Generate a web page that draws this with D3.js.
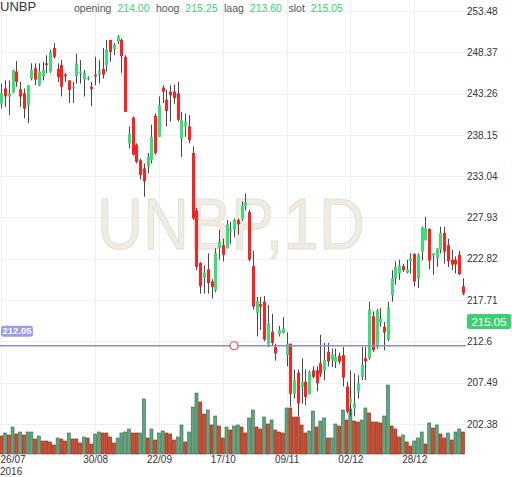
<!DOCTYPE html>
<html>
<head>
<meta charset="utf-8">
<script src="https://cdn.jsdelivr.net/npm/d3@7"></script>
<style>
  body { margin: 0; background: #fff; }
  svg { display: block; font-family: "Liberation Sans", Arial, sans-serif; }
</style>
</head>
<body>
<div id="chart"></div>
<script>
// daily candles, 26/07/2016 onwards (index = trading day)
const opens = [
  242.0, 243.9, 242.9, 243.4, 246.0, 243.8, 243.3, 241.8, 245.1, 246.4,
  244.3, 245.4, 247.0, 246.0, 248.9, 246.3, 246.8, 245.6, 244.9, 243.9,
  245.4, 245.8, 245.0, 245.1, 244.1, 245.6, 245.6, 246.3, 246.8, 249.9,
  248.7, 249.7, 249.9, 247.8, 237.1, 240.3, 236.9, 235.0, 234.0, 234.3,
  235.0, 240.5, 237.9, 244.0, 242.5, 243.5, 243.5, 243.3, 237.7, 239.2,
  239.2, 235.9, 228.8, 222.3, 220.5, 221.5, 220.0, 218.9, 224.1, 224.5,
  224.1, 226.2, 226.4, 227.6, 227.8, 229.3, 228.6, 221.9, 216.1, 217.2,
  217.5, 212.2, 213.8, 211.9, 213.5, 213.6, 210.9, 212.3, 206.1, 208.7,
  206.9, 207.6, 206.1, 209.0, 209.0, 209.9, 209.0, 211.3, 210.3, 210.0,
  210.8, 210.9, 207.0, 205.0, 204.3, 206.4, 208.2, 210.5, 210.5, 215.7,
  211.9, 214.9, 214.4, 212.8, 218.3, 220.4, 221.0, 221.9, 221.1, 222.5,
  223.4, 220.4, 223.7, 225.1, 226.5, 223.2, 222.9, 224.0, 226.0, 224.5,
  222.7, 222.7, 223.3, 219.4
];
const highs = [
  244.5, 244.9, 244.9, 246.2, 247.3, 244.7, 243.9, 244.3, 247.0, 247.0,
  247.0, 247.2, 248.0, 248.7, 249.5, 247.0, 247.4, 245.8, 244.9, 244.7,
  248.2, 247.4, 246.2, 245.4, 244.7, 247.8, 247.4, 248.9, 249.9, 249.9,
  249.5, 250.5, 250.1, 248.0, 239.2, 240.4, 237.1, 235.2, 234.6, 235.9,
  239.4, 240.8, 242.9, 244.3, 243.7, 244.3, 244.4, 244.7, 241.0, 240.8,
  240.6, 236.7, 229.1, 222.4, 222.0, 223.5, 220.3, 224.1, 226.4, 225.3,
  227.6, 227.4, 227.8, 227.8, 229.9, 230.9, 228.9, 223.8, 218.1, 218.1,
  218.2, 217.1, 216.0, 212.3, 214.5, 215.6, 213.7, 212.3, 209.1, 209.1,
  210.5, 209.1, 209.0, 209.5, 209.5, 213.4, 212.4, 212.4, 211.7, 211.7,
  211.2, 211.9, 207.6, 209.0, 208.6, 208.4, 211.9, 211.9, 217.5, 216.3,
  216.6, 216.7, 215.0, 217.5, 221.4, 222.5, 222.7, 222.2, 222.7, 223.5,
  223.5, 223.5, 226.8, 228.0, 226.6, 223.5, 224.1, 226.8, 226.8, 225.3,
  223.9, 223.1, 223.8, 220.4
];
const lows = [
  241.4, 241.6, 240.6, 243.3, 244.1, 241.6, 240.2, 239.6, 244.9, 244.3,
  244.2, 244.9, 245.8, 245.8, 247.6, 244.7, 242.9, 244.7, 242.1, 242.1,
  244.5, 244.5, 242.9, 244.9, 241.7, 244.3, 244.5, 245.1, 246.0, 247.2,
  248.0, 249.4, 245.8, 241.0, 236.5, 235.6, 234.6, 232.6, 230.5, 233.4,
  234.6, 235.7, 237.9, 242.1, 239.2, 239.8, 242.0, 239.8, 235.4, 237.9,
  237.1, 227.6, 221.4, 218.5, 218.5, 218.5, 217.9, 218.7, 222.7, 222.5,
  224.1, 224.7, 225.5, 225.8, 227.5, 228.8, 222.5, 216.5, 213.2, 214.0,
  212.6, 211.9, 212.1, 210.2, 213.2, 213.6, 209.5, 204.5, 205.5, 203.3,
  204.9, 204.7, 206.0, 208.0, 206.4, 208.2, 207.8, 209.5, 209.4, 209.3,
  209.8, 207.0, 203.7, 203.3, 203.3, 205.5, 207.8, 207.8, 210.3, 211.3,
  211.7, 214.4, 211.5, 212.6, 217.5, 219.6, 220.2, 221.2, 221.0, 221.0,
  219.4, 219.2, 222.6, 225.1, 221.5, 220.8, 221.8, 223.5, 222.2, 221.8,
  221.4, 221.0, 220.8, 218.3
];
const closes = [
  243.3, 242.9, 243.3, 246.1, 244.7, 242.9, 241.4, 244.3, 246.2, 245.0,
  246.0, 246.2, 246.8, 248.4, 247.8, 245.3, 244.1, 245.4, 243.7, 244.1,
  247.0, 246.0, 245.8, 245.2, 243.8, 245.4, 246.1, 245.6, 248.7, 248.4,
  249.3, 250.3, 247.9, 241.0, 238.3, 235.7, 234.8, 233.2, 232.4, 235.4,
  237.9, 235.9, 241.8, 243.5, 241.1, 243.1, 242.7, 240.0, 240.0, 239.7,
  237.5, 227.8, 221.8, 219.4, 221.1, 219.8, 219.3, 223.5, 224.9, 223.3,
  227.1, 226.4, 227.6, 227.1, 229.4, 229.8, 222.7, 216.9, 217.6, 216.9,
  212.8, 214.8, 212.4, 211.1, 214.0, 214.2, 212.3, 206.1, 207.8, 204.9,
  207.6, 205.7, 208.8, 208.2, 207.4, 208.6, 210.3, 210.1, 211.0, 210.7,
  210.1, 208.1, 203.9, 205.5, 204.9, 207.4, 209.7, 210.1, 216.5, 211.5,
  216.4, 215.4, 213.7, 216.8, 220.4, 221.8, 222.0, 221.4, 221.5, 222.9,
  220.0, 223.3, 226.7, 226.6, 222.6, 223.5, 224.1, 226.0, 223.7, 222.5,
  222.1, 222.1, 220.9, 218.5
];
// volume (estimated, thousands) and bar direction as drawn
const volumes = [
  18, 21, 19, 27, 20, 22, 19, 22, 22, 15, 18, 13, 13, 12, 9, 16, 15, 13, 21, 15,
  15, 11, 17, 16, 10, 20, 22, 21, 21, 17, 11, 16, 21, 22, 25, 21, 21, 21, 55, 16,
  25, 14, 21, 23, 21, 20, 14, 17, 29, 12, 22, 47, 61, 52, 40, 44, 29, 38, 28, 16,
  27, 24, 28, 29, 27, 21, 36, 44, 27, 25, 37, 30, 34, 24, 22, 21, 46, 46, 37, 37,
  29, 21, 23, 43, 27, 33, 36, 16, 16, 30, 28, 44, 34, 45, 33, 32, 34, 46, 41, 32,
  32, 31, 38, 69, 28, 25, 17, 19, 12, 8, 13, 16, 22, 10, 31, 26, 29, 20, 16, 21,
  14, 22, 25, 22
];
const volumeDir =
  "rgrgrgrggr" + "grrrrgrrgr" + "rrgrrggrrr" + "rggggrrggr" + "grggrrrggr" +
  "gggrrgrgrr" + "grggrrggrr" + "grgrrrgrrr" + "rrggrggrgg" + "rgrgrrggrr" +
  "rrggrrrgrr" + "gggrgrgrrg" + "rggr";

const priceTicks = [253.48, 248.37, 243.26, 238.15, 233.04, 227.93, 222.82, 217.71, 212.6, 207.49, 202.38];
const priceTickLabels = ["253.48", "248.37", "243.26", "238.15", "233.04", "227.93", "222.82", "217.71", "212.6", "207.49", "202.38"];
const dateTickIdx = [0, 25, 42, 59, 76, 93, 110];
const dateTickLabels = ["26/07", "30/08", "22/09", "17/10", "09/11", "02/12", "28/12"];

const symbol = "UNBP";
const quoteLabels = ["opening", "hoog", "laag", "slot"];
const quoteValues = ["214.00", "215.25", "213.60", "215.05"];
const lastPrice = 215.05;
const alertPrice = 212.05;
const alertIdx = 62;

const theme = {
  up: "#3ddc77",
  down: "#ff2020",
  wick: "#474747",
  volUp: "#64a47f",
  volUpEdge: "#346b4b",
  volDown: "#cf4d31",
  volDownEdge: "#7d2615",
  grid: "#f0f0f0",
  text: "#333",
  quote: "#3ad170",
  alert: "#8b8bd8",
  alertBox: "#9a9af2",
};

const width = 512;
const height = 477;
const plotRight = 466;
const volBottom = 454;
const n = opens.length;

const svg = d3
  .select("#chart")
  .append("svg")
  .attr("width", width)
  .attr("height", height);

const xScale = d3.scalePoint().domain(d3.range(n)).range([1.3, 463]);
const yScale = d3.scaleLinear().domain([212.6, 253.48]).range([341.3, 11]);
const vScale = d3.scaleLinear().domain([0, d3.max(volumes)]).range([volBottom, 385]);

// grid
svg
  .append("g")
  .selectAll("line")
  .data(priceTicks)
  .join("line")
  .attr("x1", 0)
  .attr("x2", plotRight)
  .attr("y1", (d) => Math.round(yScale(d)) + 0.5)
  .attr("y2", (d) => Math.round(yScale(d)) + 0.5)
  .attr("stroke", theme.grid);
svg
  .append("g")
  .selectAll("line")
  .data(dateTickIdx)
  .join("line")
  .attr("x1", (d) => Math.round(xScale(d)) + 0.5)
  .attr("x2", (d) => Math.round(xScale(d)) + 0.5)
  .attr("y1", 0)
  .attr("y2", volBottom)
  .attr("stroke", theme.grid);

// watermark
svg
  .append("text")
  .attr("x", 231)
  .attr("y", 249)
  .attr("text-anchor", "middle")
  .attr("font-size", 72)
  .attr("textLength", 268)
  .attr("lengthAdjust", "spacingAndGlyphs")
  .attr("fill", "#f0ece3")
  .attr("stroke", "#e4dfd1")
  .attr("stroke-width", 1)
  .text(`${symbol},1D`);

// volume
svg
  .append("g")
  .selectAll("rect")
  .data(volumes)
  .join("rect")
  .attr("x", (d, i) => xScale(i) - 1.5)
  .attr("y", (d) => vScale(d))
  .attr("width", 3)
  .attr("height", (d) => volBottom - vScale(d))
  .attr("fill", (d, i) => (volumeDir[i] === "g" ? theme.volUp : theme.volDown))
  .attr("stroke", (d, i) => (volumeDir[i] === "g" ? theme.volUpEdge : theme.volDownEdge))
  .attr("stroke-width", 0.6);

// candles
const candles = svg
  .append("g")
  .selectAll("g")
  .data(d3.range(n))
  .join("g")
  .attr("transform", (i) => `translate(${Math.round(xScale(i))}, 0)`);
candles
  .append("line")
  .attr("x1", 0.5)
  .attr("x2", 0.5)
  .attr("y1", (i) => yScale(highs[i]))
  .attr("y2", (i) => yScale(lows[i]))
  .attr("stroke", theme.wick)
  .attr("stroke-width", 1);
candles
  .append("rect")
  .attr("x", -1)
  .attr("width", 3)
  .attr("y", (i) => yScale(Math.max(opens[i], closes[i])))
  .attr("height", (i) =>
    Math.max(1.2, Math.abs(yScale(opens[i]) - yScale(closes[i])))
  )
  .attr("fill", (i) => (closes[i] >= opens[i] ? theme.up : theme.down));

// alert line
const alertY = yScale(alertPrice);
svg
  .append("line")
  .attr("x1", 0)
  .attr("x2", plotRight)
  .attr("y1", alertY)
  .attr("y2", alertY)
  .attr("stroke", theme.alert)
  .attr("stroke-width", 1.6);
svg
  .append("rect")
  .attr("x", 1)
  .attr("y", alertY - 20)
  .attr("width", 32)
  .attr("height", 11)
  .attr("rx", 3)
  .attr("fill", theme.alertBox);
svg
  .append("text")
  .attr("x", 17)
  .attr("y", alertY - 11.5)
  .attr("text-anchor", "middle")
  .attr("font-size", 9.5)
  .attr("font-weight", "bold")
  .attr("fill", "#fff")
  .text(alertPrice.toFixed(2));
svg
  .append("circle")
  .attr("cx", xScale(alertIdx))
  .attr("cy", alertY)
  .attr("r", 4)
  .attr("fill", "#fff")
  .attr("stroke", "#e24a4a")
  .attr("stroke-width", 1.2);

// price axis
const yAxis = svg
  .append("g")
  .attr("transform", `translate(${plotRight}, 0)`)
  .call(
    d3
      .axisRight(yScale)
      .tickValues(priceTicks)
      .tickSize(0)
      .tickPadding(1)
      .tickFormat((d, i) => priceTickLabels[i])
  );
yAxis.select(".domain").remove();
yAxis
  .selectAll("text")
  .attr("font-size", 10)
  .attr("font-family", "Liberation Sans, Arial, sans-serif")
  .attr("fill", theme.text);

// last price tag
const lastY = yScale(lastPrice);
svg
  .append("rect")
  .attr("x", 467)
  .attr("y", lastY - 7.5)
  .attr("width", 44)
  .attr("height", 15)
  .attr("rx", 2)
  .attr("fill", theme.quote);
svg
  .append("text")
  .attr("x", 489)
  .attr("y", lastY + 4)
  .attr("text-anchor", "middle")
  .attr("font-size", 11.5)
  .attr("fill", "#fff")
  .text(lastPrice.toFixed(2));

// date axis
const xAxis = svg
  .append("g")
  .attr("transform", `translate(0, ${volBottom})`)
  .call(
    d3
      .axisBottom(xScale)
      .tickValues(dateTickIdx)
      .tickSize(0)
      .tickPadding(1.5)
      .tickFormat((d, i) => dateTickLabels[i])
  );
xAxis.select(".domain").remove();
xAxis
  .selectAll("text")
  .attr("font-size", 10)
  .attr("font-family", "Liberation Sans, Arial, sans-serif")
  .attr("fill", theme.text)
  .attr("text-anchor", (d, i) => (i === 0 ? "start" : "middle"))
  .attr("x", (d, i) => (i === 0 ? -xScale(d) : 0));
svg
  .append("text")
  .attr("x", 0)
  .attr("y", 475)
  .attr("font-size", 10)
  .attr("fill", theme.text)
  .text("2016");

// header
svg
  .append("text")
  .attr("x", 0)
  .attr("y", 11)
  .attr("font-size", 13)
  .attr("fill", theme.text)
  .text(symbol);
let hx = 74;
quoteLabels.forEach((label, i) => {
  const t1 = svg
    .append("text")
    .attr("x", hx)
    .attr("y", 12)
    .attr("font-size", 10.5)
    .attr("fill", "#555")
    .text(label);
  hx += t1.node().getComputedTextLength() + 6;
  const t2 = svg
    .append("text")
    .attr("x", hx)
    .attr("y", 12)
    .attr("font-size", 10.5)
    .attr("fill", theme.quote)
    .text(quoteValues[i]);
  hx += t2.node().getComputedTextLength() + 6.5;
});
</script>
</body>
</html>
